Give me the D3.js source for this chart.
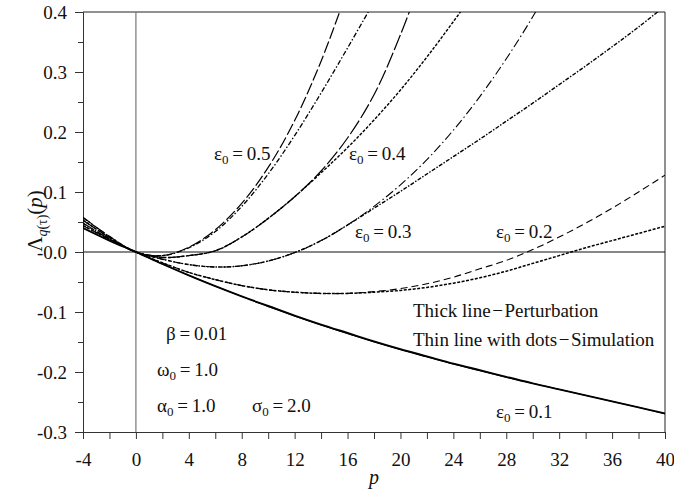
<!DOCTYPE html>
<html>
<head>
<meta charset="utf-8">
<script src="https://cdn.jsdelivr.net/npm/d3@7"></script>
<style>
  body { margin: 0; background: #fff; }
  text { font-family: "Liberation Serif", "DejaVu Serif", serif; fill: #111; }
</style>
</head>
<body>
<div id="chart"></div>
<script>
// p values shared by every curve (curves stop once they leave the top)
var pGrid = [-4, -2, 0, 2, 4, 6, 8, 10, 12, 14, 16, 18, 20, 22, 24, 26, 28, 30, 32, 34, 36, 38, 40];

// Lambda values, one array per curve
var eps01Pert = [0.040, 0.019, 0, -0.020, -0.039, -0.057, -0.074, -0.090, -0.106, -0.121, -0.135, -0.149, -0.162, -0.174, -0.186, -0.197, -0.208, -0.219, -0.229, -0.239, -0.249, -0.259, -0.269];
var eps01Sim  = [0.040, 0.019, 0, -0.020, -0.039, -0.057, -0.074, -0.091, -0.107, -0.122, -0.136, -0.150, -0.163, -0.175, -0.187, -0.198, -0.209, -0.219, -0.229, -0.239, -0.249, -0.259, -0.270];
var eps02Pert = [0.044, 0.021, 0, -0.018, -0.034, -0.046, -0.056, -0.063, -0.067, -0.069, -0.069, -0.066, -0.061, -0.053, -0.042, -0.028, -0.014, 0.004, 0.025, 0.048, 0.073, 0.100, 0.128];
var eps02Sim  = [0.044, 0.021, 0, -0.018, -0.034, -0.046, -0.056, -0.063, -0.067, -0.069, -0.069, -0.067, -0.064, -0.059, -0.052, -0.043, -0.032, -0.019, -0.006, 0.007, 0.019, 0.031, 0.043];
var eps03Pert = [0.048, 0.022, 0, -0.012, -0.021, -0.025, -0.023, -0.015, -0.001, 0.019, 0.045, 0.076, 0.112, 0.154, 0.203, 0.259, 0.322, 0.392, 0.470];
var eps03Sim  = [0.048, 0.022, 0, -0.012, -0.021, -0.025, -0.023, -0.015, -0.001, 0.019, 0.045, 0.073, 0.101, 0.130, 0.159, 0.188, 0.218, 0.248, 0.279, 0.310, 0.342, 0.375, 0.410];
var eps04Pert = [0.053, 0.024, 0, -0.009, -0.006, 0.002, 0.025, 0.056, 0.092, 0.135, 0.190, 0.262, 0.362, 0.480];
var eps04Sim  = [0.053, 0.024, 0, -0.009, -0.006, 0.002, 0.025, 0.056, 0.092, 0.132, 0.174, 0.220, 0.270, 0.325, 0.384, 0.445];
var eps05Pert = [0.058, 0.026, 0, -0.006, 0.008, 0.037, 0.081, 0.141, 0.219, 0.318, 0.437];
var eps05Sim  = [0.057, 0.026, 0, -0.006, 0.007, 0.034, 0.076, 0.130, 0.194, 0.265, 0.340, 0.417];

var xTicks = [-4, -2, 0, 2, 4, 6, 8, 10, 12, 14, 16, 18, 20, 22, 24, 26, 28, 30, 32, 34, 36, 38, 40];
var xTickLabels = ["-4", "", "0", "", "4", "", "8", "", "12", "", "16", "", "20", "", "24", "", "28", "", "32", "", "36", "", "40"];
var yTicks = [-0.3, -0.2, -0.1, 0, 0.1, 0.2, 0.3, 0.4];
var yTickLabels = ["-0.3", "-0.2", "-0.1", "-0.0", "0.1", "0.2", "0.3", "0.4"];
var yMinor = [-0.25, -0.15, -0.05, 0.05, 0.15, 0.25, 0.35];

// curve name, values, dash pattern, width
var curves = [
  ["eps01Sim", eps01Sim, null, 1.0],
  ["eps01Pert", eps01Pert, null, 1.9],
  ["eps02Pert", eps02Pert, "7,4", 1.1],
  ["eps02Sim", eps02Sim, "3,1.5", 1.5],
  ["eps03Pert", eps03Pert, "9,3,1.5,3", 1.1],
  ["eps03Sim", eps03Sim, "4,1.5,1.5,1.5", 1.4],
  ["eps04Pert", eps04Pert, "16,3", 1.2],
  ["eps04Sim", eps04Sim, "3,1.5", 1.4],
  ["eps05Pert", eps05Pert, "12,3", 1.2],
  ["eps05Sim", eps05Sim, "5,2,1.5,2", 1.3]
];

var margin = {top: 12, right: 9, bottom: 62, left: 83},
    width = 674 - margin.left - margin.right,
    height = 494 - margin.top - margin.bottom;

var svg = d3.select("#chart")
  .append("svg")
    .attr("width", 674)
    .attr("height", 494)
  .append("g")
    .attr("transform", "translate(" + margin.left + "," + margin.top + ")");

var x = d3.scaleLinear().domain([-4, 40]).range([0, width]);
var y = d3.scaleLinear().domain([-0.3, 0.4]).range([height, 0]);

svg.append("defs").append("clipPath").attr("id", "plotClip")
  .append("rect").attr("width", width).attr("height", height);

// frame on top and right
svg.append("path")
  .attr("d", "M0,0H" + width + "V" + height)
  .attr("fill", "none").attr("stroke", "#222").attr("stroke-width", 1);

// zero lines
svg.append("line")
  .attr("x1", 0).attr("x2", width).attr("y1", y(0)).attr("y2", y(0))
  .attr("stroke", "#111").attr("stroke-width", 1);
svg.append("line")
  .attr("x1", x(0)).attr("x2", x(0)).attr("y1", 0).attr("y2", height)
  .attr("stroke", "#777").attr("stroke-width", 1.2);

// x axis
var xAxis = svg.append("g")
  .attr("transform", "translate(0," + height + ")")
  .call(d3.axisBottom(x).tickValues(xTicks).tickSize(7).tickPadding(14)
    .tickFormat(function(d, i) { return xTickLabels[i]; }));
xAxis.selectAll("text").style("font-size", "19px");

// y axis
var yAxis = svg.append("g")
  .call(d3.axisLeft(y).tickValues(yTicks).tickSize(8).tickPadding(8)
    .tickFormat(function(d, i) { return yTickLabels[i]; }));
yAxis.selectAll("text").style("font-size", "19px");
svg.append("g")
  .call(d3.axisLeft(y).tickValues(yMinor).tickSize(5).tickFormat(""))
  .select(".domain").remove();

svg.selectAll(".domain, .tick line").attr("stroke", "#333");

// curves
var line = d3.line()
  .x(function(d) { return x(d[0]); })
  .y(function(d) { return y(d[1]); })
  .curve(d3.curveCatmullRom.alpha(0.5));

var curveG = svg.append("g").attr("clip-path", "url(#plotClip)");
curves.forEach(function(c) {
  var pts = c[1].map(function(v, i) { return [pGrid[i], v]; });
  curveG.append("path")
    .datum(pts)
    .attr("class", c[0])
    .attr("fill", "none")
    .attr("stroke", "#000")
    .attr("stroke-width", c[3])
    .attr("stroke-dasharray", c[2])
    .attr("d", line);
});

// annotations (page coordinates)
var page = d3.select("#chart svg");
var eq = "\u2009=\u2009";
function symLabel(px, py, sym, sub, val) {
  var t = page.append("text").attr("x", px).attr("y", py).style("font-size", "19px");
  t.append("tspan").text(sym);
  if (sub) {
    t.append("tspan").attr("dy", 4).style("font-size", "13px").text(sub);
    t.append("tspan").attr("dy", -4).text(eq + val);
  } else {
    t.append("tspan").text(eq + val);
  }
}
symLabel(214, 160, "ε", "0", "0.5");
symLabel(349, 160, "ε", "0", "0.4");
symLabel(355, 238, "ε", "0", "0.3");
symLabel(496, 238, "ε", "0", "0.2");
symLabel(496, 418, "ε", "0", "0.1");

symLabel(166, 340, "β", null, "0.01");
symLabel(157, 376, "ω", "0", "1.0");
symLabel(157, 412, "α", "0", "1.0");
symLabel(252, 412, "σ", "0", "2.0");

page.append("text").attr("x", 413).attr("y", 317).style("font-size", "19px")
  .text("Thick line\u200A\u2212\u200APerturbation");
page.append("text").attr("x", 413).attr("y", 346).style("font-size", "19px")
  .text("Thin line with dots\u200A\u2212\u200ASimulation");

// axis titles
page.append("text").attr("x", 374).attr("y", 484)
  .attr("text-anchor", "middle").style("font-size", "20px").style("font-style", "italic")
  .text("p");

var yl = page.append("text")
  .attr("transform", "translate(42,221) rotate(-90)")
  .attr("text-anchor", "middle").style("font-size", "21px");
yl.append("tspan").text("Λ");
yl.append("tspan").attr("dy", 5).style("font-size", "14px").style("font-style", "italic").text("q");
yl.append("tspan").style("font-size", "14px").text("(τ)");
yl.append("tspan").attr("dy", -5).text("(");
yl.append("tspan").style("font-style", "italic").text("p");
yl.append("tspan").text(")");
</script>
</body>
</html>
